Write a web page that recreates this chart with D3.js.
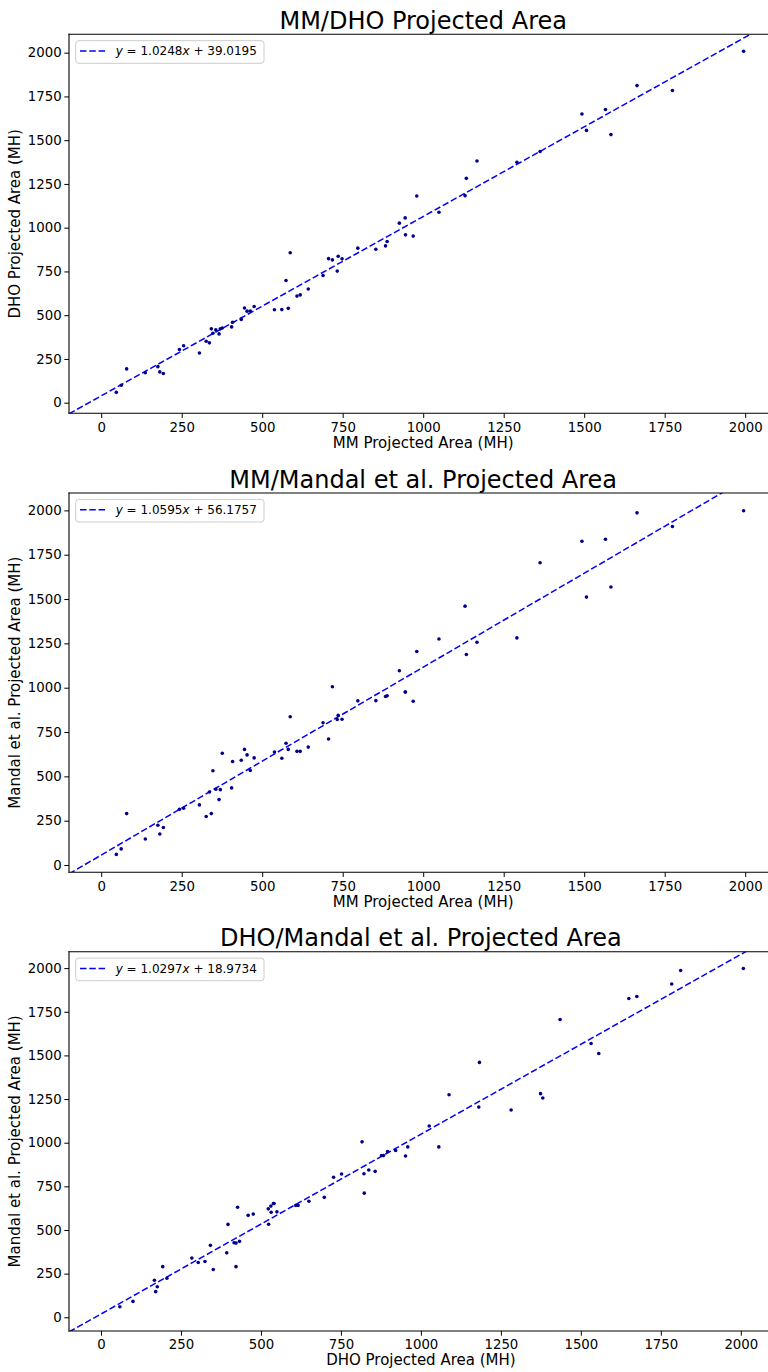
<!DOCTYPE html>
<html>
<head>
<meta charset="utf-8">
<script src="https://cdn.jsdelivr.net/npm/d3@7"></script>
<style>
  body { margin: 0; background: #fff; }
  text { font-family: "DejaVu Sans", sans-serif; fill: #000; }
</style>
</head>
<body>
<div id="chart"></div>
<script>
// projected areas per sample (MH)
var mm = [47, 62, 79, 137, 176, 182, 193, 243, 256, 305,
  326, 336, 342, 347, 356, 366, 370, 376, 405, 408,
  435, 445, 453, 463, 475, 538, 561, 574, 581, 587,
  608, 618, 643, 689, 706, 718, 733, 736, 748, 797,
  853, 883, 888, 926, 944, 945, 969, 980, 1049, 1130,
  1134, 1167, 1291, 1363, 1493, 1507, 1566, 1583, 1664, 1774,
  1995];
var dho = [59, 100, 193, 171, 206, 176, 167, 304, 325, 284,
  351, 342, 422, 397, 416, 393, 422, 427, 433, 460,
  476, 541, 523, 524, 550, 531, 532, 698, 539, 857,
  609, 616, 650, 727, 823, 816, 752, 837, 822, 883,
  877, 896, 921, 1026, 1056, 959, 952, 1181, 1088, 1183,
  1282, 1381, 1374, 1435, 1650, 1556, 1675, 1532, 1812, 1784,
  2008];
var mandal = [60, 91, 290, 147, 224, 175, 212, 314, 320, 339,
  274, 412, 290, 532, 427, 369, 425, 630, 435, 584,
  591, 652, 621, 533, 604, 637, 602, 687, 652, 836,
  641, 641, 665, 802, 711, 1005, 821, 844, 822, 926,
  927, 950, 955, 1096, 976, 976, 924, 1204, 1275, 1460,
  1187, 1256, 1281, 1705, 1826, 1511, 1837, 1568, 1986, 1909,
  1998];

var titles = ["MM/DHO Projected Area", "MM/Mandal et al. Projected Area", "DHO/Mandal et al. Projected Area"];
var xLabels = ["MM Projected Area (MH)", "MM Projected Area (MH)", "DHO Projected Area (MH)"];
var yLabels = ["DHO Projected Area (MH)", "Mandal et al. Projected Area (MH)", "Mandal et al. Projected Area (MH)"];
var slopes = [1.0248, 1.0595, 1.0297];
var intercepts = [39.0195, 56.1757, 18.9734];
var ticks = [0, 250, 500, 750, 1000, 1250, 1500, 1750, 2000];

var svg = d3.select("#chart").append("svg")
  .attr("width", 768)
  .attr("height", 1372);

// pixel layout of each subplot
var panels = [
  {xs: mm, ys: dho, top: 34.3, bottom: 413.3, right: 777.4, yDom: [-60.6, 2105]},
  {xs: mm, ys: mandal, top: 493, bottom: 872.3, right: 777.4, yDom: [-41, 2098]},
  {xs: dho, ys: mandal, top: 951.7, bottom: 1331, right: 772.8, yDom: [-78.5, 2094]}
];
var left = 69;

panels.forEach(function (p, i) {
  var x = d3.scaleLinear().domain([-100, 2100]).range([left, p.right]);
  var y = d3.scaleLinear().domain(p.yDom).range([p.bottom, p.top]);
  var g = svg.append("g");

  g.append("clipPath").attr("id", "clip" + i)
    .append("rect")
    .attr("x", left).attr("y", p.top)
    .attr("width", p.right - left).attr("height", p.bottom - p.top);

  var plot = g.append("g").attr("clip-path", "url(#clip" + i + ")");

  // fit line
  var line = d3.line()
    .x(function (d) { return x(d); })
    .y(function (d) { return y(slopes[i] * d + intercepts[i]); });
  plot.append("path")
    .datum(x.domain())
    .attr("d", line)
    .attr("fill", "none")
    .attr("stroke", "#0000ff")
    .attr("stroke-width", 1.5)
    .attr("stroke-dasharray", "6.5,2.8");

  plot.selectAll("circle")
    .data(p.xs.map(function (v, k) { return [v, p.ys[k]]; }))
    .enter().append("circle")
    .attr("cx", function (d) { return x(d[0]); })
    .attr("cy", function (d) { return y(d[1]); })
    .attr("r", 1.8)
    .attr("fill", "#00008b");

  // axes
  var xAxis = g.append("g")
    .attr("transform", "translate(0," + p.bottom + ")")
    .call(d3.axisBottom(x).tickValues(ticks).tickSize(4.7).tickPadding(4.3).tickFormat(d3.format("d")));
  var yAxis = g.append("g")
    .attr("transform", "translate(" + left + ",0)")
    .call(d3.axisLeft(y).tickValues(ticks).tickSize(4.7).tickPadding(2.6).tickFormat(d3.format("d")));
  [xAxis, yAxis].forEach(function (a) {
    a.select(".domain").remove();
    a.selectAll(".tick line").attr("stroke", "#000").attr("stroke-width", 1);
    a.selectAll(".tick text")
      .style("font-family", "DejaVu Sans")
      .style("font-size", "13.3px")
      .attr("fill", "#000");
  });

  // spines (right one falls outside the picture)
  var spines = [
    [left, p.top, left, p.bottom],
    [left, p.bottom, p.right, p.bottom],
    [left, p.top, p.right, p.top]
  ];
  g.selectAll(".spine")
    .data(spines)
    .enter().append("line")
    .attr("class", "spine")
    .attr("x1", function (d) { return d[0]; })
    .attr("y1", function (d) { return d[1]; })
    .attr("x2", function (d) { return d[2]; })
    .attr("y2", function (d) { return d[3]; })
    .attr("stroke", "#000")
    .attr("stroke-width", 1.1)
    .attr("stroke-linecap", "square");

  var cx = (left + p.right) / 2;
  g.append("text")
    .attr("x", cx).attr("y", p.top - 5.5)
    .attr("text-anchor", "middle")
    .style("font-size", "24px")
    .text(titles[i]);

  g.append("text")
    .attr("x", cx).attr("y", p.bottom + 34.3)
    .attr("text-anchor", "middle")
    .style("font-size", "15px")
    .text(xLabels[i]);

  g.append("text")
    .attr("transform", "translate(19.5," + (p.top + p.bottom) / 2 + ") rotate(-90)")
    .attr("text-anchor", "middle")
    .style("font-size", "15px")
    .text(yLabels[i]);

  // legend
  var lg = g.append("g").attr("transform", "translate(0," + p.top + ")");
  lg.append("rect")
    .attr("x", 75.7).attr("y", 6.4)
    .attr("width", 188.3).attr("height", 22.6)
    .attr("rx", 3)
    .attr("fill", "#fff").attr("fill-opacity", 0.8)
    .attr("stroke", "#cccccc").attr("stroke-width", 1);
  lg.append("line")
    .attr("x1", 80).attr("x2", 106)
    .attr("y1", 16.7).attr("y2", 16.7)
    .attr("stroke", "#0000ff")
    .attr("stroke-width", 1.5)
    .attr("stroke-dasharray", "6.5,2.8");
  var t = lg.append("text")
    .attr("x", 115.7).attr("y", 21)
    .style("font-size", "12px");
  t.append("tspan").style("font-style", "italic").text("y");
  t.append("tspan").text(" = " + slopes[i].toFixed(4));
  t.append("tspan").style("font-style", "italic").text("x");
  t.append("tspan").text(" + " + intercepts[i].toFixed(4));
});
</script>
</body>
</html>
